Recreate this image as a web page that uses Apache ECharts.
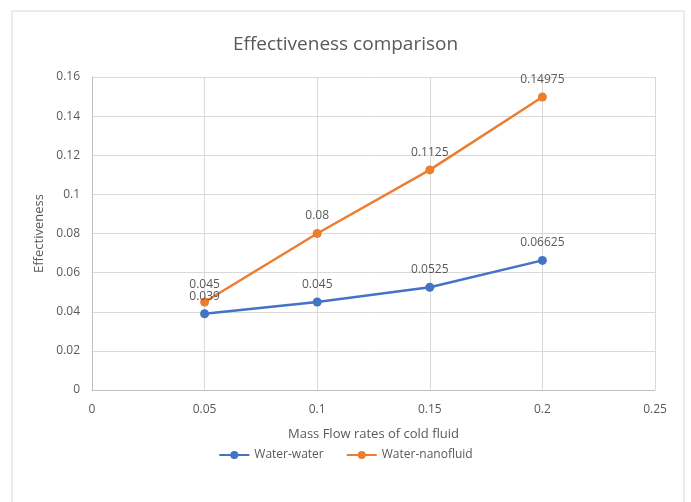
<!DOCTYPE html>
<html><head><meta charset="utf-8">
<script src="https://cdn.jsdelivr.net/npm/echarts@6/dist/echarts.min.js"></script>
<style>html,body{margin:0;padding:0;background:#fff}#c{width:691px;height:502px}</style>
</head><body><div id="c"></div>
<script>
const xValues = [0.05, 0.1, 0.15, 0.2];
const waterWater = [0.039, 0.045, 0.0525, 0.06625];
const waterNano = [0.045, 0.08, 0.1125, 0.14975];
const seriesNames = ['Water-water', 'Water-nanofluid'];

const chart = echarts.init(document.getElementById('c'));
const font = 'Open Sans, Noto Sans, sans-serif';
const txt = '#595959';
function pairs(ys){ return xValues.map((x,i)=>[x, ys[i]]); }
function mk(name, ys, color){
  return {
    name, type:'line', data: pairs(ys), symbol:'circle', symbolSize:9,
    lineStyle:{color, width:2.5}, itemStyle:{color},
    label:{show:true, position:'top', distance:7, color:txt, fontSize:12, fontFamily:font,
      formatter:p=>String(p.value[1])},
    z: 3
  };
}
chart.setOption({
  animation:false,
  graphic:[{type:'rect', shape:{x:12,y:11,width:672,height:520}, style:{fill:'none', stroke:'#D9D9D9', lineWidth:1}, z:-1}],
  title:{text:'Effectiveness comparison', left:'center', top:30, textStyle:{fontSize:19, fontWeight:'normal', color:txt, fontFamily:font}},
  legend:{bottom:36, left:'center', itemWidth:30, itemHeight:10, itemGap:22,
    textStyle:{color:txt, fontSize:12, fontFamily:font}, data:seriesNames},
  grid:{left:92, right:36, top:77, bottom:112},
  xAxis:{type:'value', min:0, max:0.25, interval:0.05,
    name:'Mass Flow rates of cold fluid', nameLocation:'middle', nameGap:38,
    nameTextStyle:{color:txt, fontSize:13, fontFamily:font},
    axisLine:{show:true, lineStyle:{color:'#BFBFBF'}}, axisTick:{show:false},
    axisLabel:{color:txt, fontSize:12, fontFamily:font, margin:14},
    splitLine:{show:true, lineStyle:{color:'#D9D9D9'}}},
  yAxis:{type:'value', min:0, max:0.16, interval:0.02,
    name:'Effectiveness', nameLocation:'middle', nameGap:46, nameRotate:90,
    nameTextStyle:{color:txt, fontSize:13, fontFamily:font},
    axisLine:{show:true, lineStyle:{color:'#BFBFBF'}}, axisTick:{show:false},
    axisLabel:{color:txt, fontSize:12, fontFamily:font, margin:12},
    splitLine:{show:true, lineStyle:{color:'#D9D9D9'}}},
  series:[mk(seriesNames[0], waterWater, '#4472C4'), mk(seriesNames[1], waterNano, '#ED7D31')]
});
</script></body></html>
